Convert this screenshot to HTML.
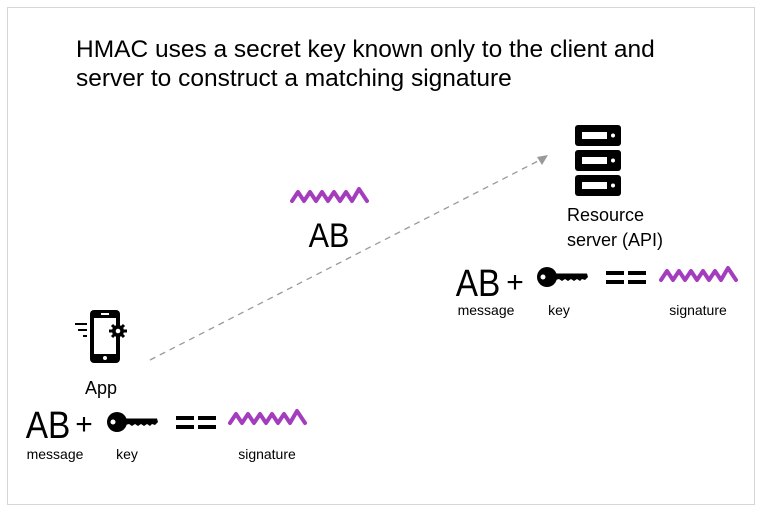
<!DOCTYPE html>
<html><head><meta charset="utf-8"><style>
html,body{margin:0;padding:0;background:#fff}
svg{display:block}
text{font-family:"Liberation Sans",sans-serif}
</style></head><body>
<svg width="762" height="512" viewBox="0 0 762 512" xmlns="http://www.w3.org/2000/svg">
<defs>
<g id="sq"><polyline points="0,13 6,4 12,13 18,4 24,13 30,4 36,13 42,4 48,13 54,4 60,13 67,1 75,13" fill="none" stroke="#a33dbd" stroke-width="4" stroke-linejoin="round" stroke-linecap="round"/></g>
<g id="key"><circle cx="10" cy="10" r="10" fill="#000"/><circle cx="6" cy="10" r="2.5" fill="#fff"/><path d="M17,6.5 L50,6.5 L51,10 L48,13 L45,12 L43,14 L40,12 L37,14 L34,12 L31,14 L28,12 L25,14 L22,12 L17,13.5 Z" fill="#000"/></g>
</defs>
<rect x="7.5" y="7.5" width="747" height="497" fill="#fff" stroke="#d6d6d6"/>
<text x="76" y="57" font-size="24.5" fill="#000">HMAC uses a secret key known only to the client and</text>
<text x="76" y="86" font-size="24.5" fill="#000">server to construct a matching signature</text>
<line x1="150" y1="360" x2="540" y2="160" stroke="#999" stroke-width="1.3" stroke-dasharray="6,5"/>
<polygon points="548,155 537,157 542,165" fill="#999"/>
<use href="#sq" x="292" y="188"/>
<text x="329" y="247" font-size="34" text-anchor="middle" transform="translate(329 0) scale(0.9 1) translate(-329 0)">AB</text>
<g fill="#000">
<rect x="575" y="125" width="46" height="21" rx="3"/>
<rect x="575" y="150" width="46" height="21" rx="3"/>
<rect x="575" y="175" width="46" height="21" rx="3"/>
</g>
<g fill="#fff">
<rect x="582" y="132" width="25" height="7"/><circle cx="613" cy="135.5" r="2"/>
<rect x="582" y="157" width="25" height="7"/><circle cx="613" cy="160.5" r="2"/>
<rect x="582" y="182" width="25" height="7"/><circle cx="613" cy="185.5" r="2"/>
</g>
<text x="567" y="221" font-size="18">Resource</text>
<text x="567" y="246" font-size="18">server (API)</text>
<text x="478" y="296" font-size="38" text-anchor="middle" transform="translate(478 0) scale(0.88 1) translate(-478 0)">AB</text>
<text x="515" y="292" font-size="30" text-anchor="middle">+</text>
<use href="#key" x="537" y="267"/>
<rect x="606" y="271" width="18" height="4"/><rect x="606" y="280" width="18" height="4"/>
<rect x="628" y="271" width="18" height="4"/><rect x="628" y="280" width="18" height="4"/>
<use href="#sq" x="661" y="267"/>
<text x="486" y="315" font-size="14" text-anchor="middle">message</text>
<text x="559" y="315" font-size="14" text-anchor="middle">key</text>
<text x="698" y="315" font-size="14" text-anchor="middle">signature</text>
<rect x="90" y="310" width="30" height="53" rx="4" fill="#000"/>
<rect x="94" y="318" width="22" height="36" fill="#fff"/>
<rect x="101" y="313" width="8" height="2" fill="#fff"/>
<circle cx="105" cy="358" r="2" fill="#fff"/>
<rect x="75" y="323" width="12" height="2"/><rect x="78" y="329" width="9" height="2"/><rect x="83" y="335" width="4" height="2"/>
<circle cx="118" cy="331" r="6" fill="#000"/>
<g stroke="#000" stroke-width="3"><line x1="118" y1="322" x2="118" y2="340"/><line x1="109" y1="331" x2="127" y2="331"/><line x1="112" y1="325" x2="124" y2="337"/><line x1="124" y1="325" x2="112" y2="337"/></g>
<circle cx="118" cy="331" r="2.3" fill="#fff"/>
<text x="101" y="394" font-size="18" text-anchor="middle">App</text>
<text x="48" y="438" font-size="38" text-anchor="middle" transform="translate(48 0) scale(0.88 1) translate(-48 0)">AB</text>
<text x="84" y="434" font-size="30" text-anchor="middle">+</text>
<use href="#key" x="107" y="412"/>
<rect x="176" y="416" width="18" height="4"/><rect x="176" y="425" width="18" height="4"/>
<rect x="198" y="416" width="18" height="4"/><rect x="198" y="425" width="18" height="4"/>
<use href="#sq" x="230" y="410"/>
<text x="55" y="459" font-size="14" text-anchor="middle">message</text>
<text x="127" y="459" font-size="14" text-anchor="middle">key</text>
<text x="267" y="459" font-size="14" text-anchor="middle">signature</text>
</svg>
</body></html>
